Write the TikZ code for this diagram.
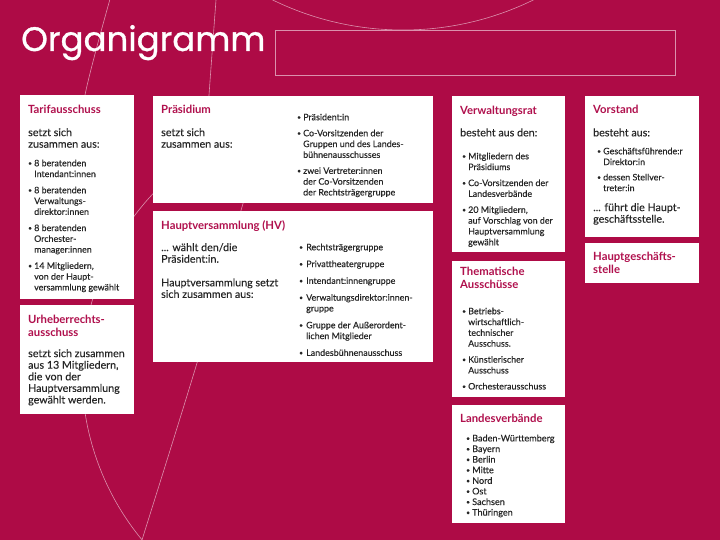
\documentclass[tikz,border=0pt]{standalone}
\usepackage{fontspec}
\setmainfont{Lato}
\newfontfamily\bodyface{Lato}[FakeBold=0.2]
\newfontfamily\titlefont{Poppins}[FakeBold=0.9]
\definecolor{bg}{HTML}{AE0B46}
\definecolor{mag}{HTML}{B0104D}
\definecolor{ink}{HTML}{262626}
\colorlet{decocol}{white!55!bg}
\newcommand{\dotmark}{{\fontsize{6.5}{6.5}\selectfont\raisebox{0.8pt}{•}}}
\newcommand{\bu}{\makebox[6pt][l]{\dotmark}}
\newcommand{\ind}{\hspace*{6pt}}
\newcommand{\bux}{\makebox[7pt][l]{\dotmark}}
\newcommand{\indx}{\hspace*{7pt}}
\newcommand{\boxtitlefont}{\fontsize{11.3}{12.8}\selectfont\bfseries}
\newcommand{\bodyfnt}{\bodyface\fontsize{10.7}{11.6}\selectfont}
\newcommand{\bulfnt}{\bodyface\fontsize{8.9}{10.8}\selectfont}
\tikzset{
  panel/.style={fill=white, draw=none, anchor=north west, inner sep=0pt, outer sep=0pt},
  ttl/.style={anchor=north west, inner sep=0pt, align=left, text=mag, font=\boxtitlefont, execute at begin node=\strut},
  txt/.style={anchor=north west, inner sep=0pt, align=left, text=ink, font=\bodyfnt, execute at begin node=\strut},
  lst/.style={anchor=north west, inner sep=0pt, align=left, text=ink, font=\bulfnt, execute at begin node=\strut},
  decoline/.style={draw=decocol, line width=0.6pt}
}
\begin{document}
\begin{tikzpicture}[x=1pt,y=-1pt]
\useasboundingbox (0,0) rectangle (720,540);
\fill[bg] (0,0) rectangle (720,540);
% decorative lines
\begin{scope}
\clip (0,0) rectangle (720,540);
\draw[decoline] (403,-267) circle[radius=297];
\draw[decoline] plot[variable=\t, domain=140.5:235, samples=80] ({344+262*cos(\t)},{373+262*sin(\t)});
\draw[decoline] plot[smooth] coordinates {(112,-8) (85,95) (75,180)};
\draw[decoline] plot[smooth] coordinates {(217,-8) (216,0) (209,95) (205,150)};
\draw[decoline] plot[smooth] coordinates {(270,110) (242,207) (197,363) (142,540) (139,550)};
\end{scope}
% header
\node[anchor=base west, inner sep=0pt, text=white, font=\titlefont\fontsize{34}{40}\selectfont] (title) at (21,51) {Organigramm};
\node[draw=decocol, line width=0.6pt, minimum width=400pt, minimum height=45pt, anchor=north west, inner sep=0pt] (hdr) at (275,30) {};
% panels
\node[panel, minimum width=114pt, minimum height=204pt] (tarif) at (20,95) {};
\node[panel, minimum width=114pt, minimum height=109pt] (urheber) at (20,305) {};
\node[panel, minimum width=280pt, minimum height=107pt] (praes) at (153,96) {};
\node[panel, minimum width=280pt, minimum height=151pt] (hv) at (153,211) {};
\node[panel, minimum width=113pt, minimum height=156pt] (vrat) at (452,96) {};
\node[panel, minimum width=113pt, minimum height=136pt] (them) at (452,261) {};
\node[panel, minimum width=113pt, minimum height=118pt] (landes) at (452,405) {};
\node[panel, minimum width=114pt, minimum height=141pt] (vorst) at (585,96) {};
\node[panel, minimum width=114pt, minimum height=40pt] (hgs) at (585,243) {};
% Tarifausschuss
\node[ttl] (tarifT) at (28,104) {Tarifausschuss};
\node[txt] (tarifB) at (28,128) {setzt sich\\zusammen aus:};
\node[lst] (tarifL) at (28,159.5) {\bu 8 beratenden\\ \ind Intendant:innen\\[5.4pt]
\bu 8 beratenden\\ \ind Verwaltungs-\\ \ind direktor:innen\\[5.4pt]
\bu 8 beratenden\\ \ind Orchester-\\ \ind manager:innen\\[5.4pt]
\bu 14 Mitgliedern,\\ \ind von der Haupt-\\ \ind versammlung gewählt};
% Urheberrechtsausschuss
\node[ttl] (urhT) at (28,315) {Urheberrechts-\\ausschuss};
\node[txt] (urhB) at (28,349) {setzt sich zusammen\\aus 13 Mitgliedern,\\die von der\\Hauptversammlung\\gewählt werden.};
% Praesidium
\node[ttl] (praesT) at (161,104) {Präsidium};
\node[txt] (praesB) at (161,128) {setzt sich\\zusammen aus:};
\node[lst] (praesL) at (297,113.5) {\bu Präsident:in\\[5.2pt]
\bu Co-Vorsitzenden der\\ \ind Gruppen und des Landes-\\ \ind bühnenausschusses\\[5.2pt]
\bu zwei Vertreter:innen\\ \ind der Co-Vorsitzenden\\ \ind der Rechtsträgergruppe};
% Hauptversammlung
\node[ttl] (hvT) at (161,220) {Hauptversammlung (HV)};
\node[txt] (hvB) at (161,243) {... wählt den/die\\Präsident:in.\\[12pt]Hauptversammlung setzt\\sich zusammen aus:};
\node[lst] (hvL) at (299,243.5) {\bux Rechtsträgergruppe\\[6pt]
\bux Privattheatergruppe\\[6pt]
\bux Intendant:innengruppe\\[6pt]
\bux Verwaltungsdirektor:innen-\\ \indx gruppe\\[6pt]
\bux Gruppe der Außerordent-\\ \indx lichen Mitglieder\\[6pt]
\bux Landesbühnenausschuss};
% Verwaltungsrat
\node[ttl] (vratT) at (460,105) {Verwaltungsrat};
\node[txt] (vratB) at (460,128) {besteht aus den:};
\node[lst] (vratL) at (462,152.5) {\bu Mitgliedern des\\ \ind Präsidiums\\[5.2pt]
\bu Co-Vorsitzenden der\\ \ind Landesverbände\\[5.2pt]
\bu 20 Mitgliedern,\\ \ind auf Vorschlag von der\\ \ind Hauptversammlung\\ \ind gewählt};
% Thematische Ausschuesse
\node[ttl] (themT) at (460,267) {Thematische\\Ausschüsse};
\node[lst] (themL) at (462,307.5) {\bu Betriebs-\\ \ind wirtschaftlich-\\ \ind technischer\\ \ind Ausschuss.\\[5.2pt]
\bu Künstlerischer\\ \ind Ausschuss\\[5.2pt]
\bu Orchesterausschuss};
% Landesverbaende
\node[ttl] (landesT) at (460,413) {Landesverbände};
\node[lst, font=\bodyface\fontsize{9.1}{10.6}\selectfont] (landesL) at (466,434.5) {\bu Baden-Württemberg\\ \bu Bayern\\ \bu Berlin\\ \bu Mitte\\ \bu Nord\\ \bu Ost\\ \bu Sachsen\\ \bu Thüringen};
% Vorstand
\node[ttl] (vorstT) at (593,104) {Vorstand};
\node[txt] (vorstB) at (593,128) {besteht aus:};
\node[lst] (vorstL) at (597,147.5) {\bu Geschäftsführende:r\\ \ind Direktor:in\\[4.5pt]
\bu dessen Stellver-\\ \ind treter:in};
\node[txt] (vorstB2) at (593,203) {... führt die Haupt-\\geschäftsstelle.};
% Hauptgeschaeftsstelle
\node[ttl] (hgsT) at (593,252) {Hauptgeschäfts-\\stelle};
\end{tikzpicture}
\end{document}
